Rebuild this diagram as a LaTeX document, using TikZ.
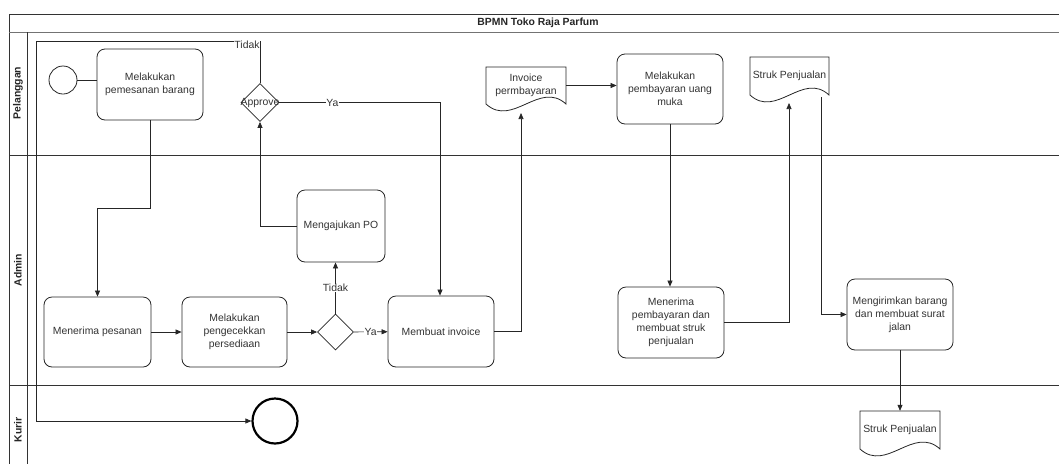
\documentclass[tikz,border=0pt]{standalone}
\usepackage{fontspec}
\setmainfont{Liberation Sans}
\usetikzlibrary{arrows.meta,shapes.geometric}
\begin{document}
\begin{tikzpicture}[x=1pt,y=-1pt,
  every node/.style={font=\fontsize{10.4}{13}\selectfont, text=black!80},
  task/.style={draw=black!85, line width=0.8pt, rounded corners=8pt, align=center, inner sep=1pt},
  gate/.style={draw=black!85, line width=0.8pt, diamond, inner sep=0pt, minimum width=#1, minimum height=#1, aspect=1},
  docbox/.style={inner sep=0pt, align=center},
  flow/.style={draw=black!85, line width=0.7pt, -{Triangle[length=6pt,width=5pt]}},
  plain/.style={draw=black!85, line width=0.7pt},
  lbl/.style={fill=white, inner sep=0.5pt},
  lane/.style={rotate=90, font=\fontsize{10.4}{13}\selectfont\bfseries, text=black!85},
  frame/.style={draw=black!80, line width=0.8pt}
]
\useasboundingbox (0,0) rectangle (1059,464);
\fill[white] (0,0) rectangle (1059,464);

% pool frame
\draw[frame] (1059,14) -- (9,14) -- (9,464);
\draw[draw=black!55, line width=0.8pt] (9,32) -- (1059,32);
\draw[frame] (27,32) -- (27,464);
\draw[frame] (9,155) -- (1059,155);
\draw[frame] (9,385) -- (1059,385);
\node[font=\fontsize{10.4}{13}\selectfont\bfseries, text=black!85] (title) at (538,22.5) {BPMN Toko Raja Parfum};
\node[lane] (lp) at (18,93) {Pelanggan};
\node[lane] (la) at (18,270) {Admin};
\node[lane] (lk) at (18,430) {Kurir};

% events
\node[circle, draw=black!85, line width=0.8pt, minimum size=28pt, inner sep=0pt] (start) at (63,80) {};
\node[circle, draw=black, line width=2.2pt, minimum size=45pt, inner sep=0pt] (end) at (275,421) {};

% tasks
\node[task, minimum width=106pt, minimum height=71pt] (pesan) at (150,84.5) {Melakukan\\pemesanan barang};
\node[gate=38pt] (approve) at (260,102.5) {};
\node at (approve) {Approve};
\node[task, minimum width=88pt, minimum height=72pt] (po) at (341,226) {Mengajukan PO};
\node[task, minimum width=107pt, minimum height=70pt] (terima) at (97.5,332) {Menerima pesanan};
\node[task, minimum width=105pt, minimum height=70pt] (cek) at (234.5,332) {Melakukan\\pengecekkan\\persediaan};
\node[gate=36pt] (d2) at (335.5,332) {};
\node[task, minimum width=106pt, minimum height=71pt] (inv) at (441,331.5) {Membuat invoice};
\node[task, minimum width=106pt, minimum height=70pt] (bayar) at (670,89) {Melakukan\\pembayaran uang\\muka};
\node[task, minimum width=106pt, minimum height=71pt] (tbayar) at (671,322.5) {Menerima\\pembayaran dan\\membuat struk\\penjualan};
\node[task, minimum width=106pt, minimum height=71pt] (kirim) at (900,314.5) {Mengirimkan barang\\dan membuat surat\\jalan};

% documents
\newcommand{\docshape}[6]{%
  % #1 name, #2 x0, #3 y0, #4 x1, #5 yb, #6 text
  \draw[draw=black!85, line width=0.8pt, fill=white] (#2,#3) -- (#4,#3) -- (#4,#5)
     .. controls ({#4-0.33*(#4-#2)},{#5-24}) and ({#2+0.33*(#4-#2)},{#5+24}) .. (#2,#5) -- cycle;
  \node[docbox, minimum width={(#4-#2)*1pt}, minimum height={(#5-#3)*1pt}] (#1) at ({(#2+#4)/2},{(#3+#5)/2}) {#6};
}
\docshape{invdoc}{486}{67}{566}{104}{Invoice\\permbayaran}
\docshape{struk}{750}{57}{829}{95}{Struk Penjualan}
\docshape{struk2}{860}{411}{940}{449}{Struk Penjualan}
\coordinate (invin) at (521,113);
\coordinate (strukin) at (789,103);
\coordinate (strukout) at (821,97);

% connectors
\draw[plain] (start) -- (pesan.west |- start);
\draw[flow] (pesan.south) -- (150,208) -- (97.5,208) -- (terima.north);
\draw[flow] (terima) -- (cek);
\draw[flow] (cek) -- (d2);
\draw[flow] (d2) -- node[lbl]{Ya} (inv);
\draw[flow] (d2.north) -- node[lbl, pos=0.5]{Tidak} (d2.north |- po.south);
\draw[flow] (po.west) -- (approve.south |- po.west) -- (approve.south);
\draw[flow] (approve.north) -- (260,41) -- (36,41) -- (36,421) -- (end.west);
\node[lbl] (tidak1) at (247,45) {Tidak};
\draw[flow] (approve.east) -- node[lbl, pos=0.33]{Ya} (440,102.5) -- (inv.north -| 440,0);
\draw[flow] (inv.east) -- (521,331.5) -- (invin);
\draw[flow] (invdoc.east) -- (bayar.west |- invdoc.east);
\draw[flow] (bayar.south) -- (tbayar.north -| bayar.south);
\draw[flow] (tbayar.east) -- (789,322.5) -- (strukin);
\draw[flow] (strukout) -- (821,314.5) -- (kirim.west);
\draw[flow] (kirim.south) -- (struk2.north -| kirim.south);
\end{tikzpicture}
\end{document}
